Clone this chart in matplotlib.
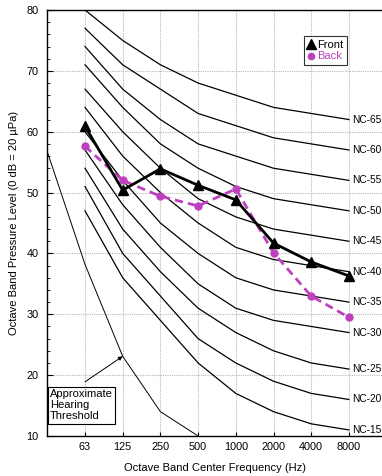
import numpy as np
import matplotlib
matplotlib.use("Agg")
import matplotlib.pyplot as plt
from matplotlib.ticker import MultipleLocator
from matplotlib.lines import Line2D

plt.rcParams["font.family"] = ["Liberation Sans", "DejaVu Sans"]

# Octave bands
bands = ["63", "125", "250", "500", "1000", "2000", "4000", "8000"]

# Measured levels (dB)
front = [60.9, 50.4, 53.9, 51.2, 48.8, 41.7, 38.6, 36.3]
back = [57.6, 52.0, 49.4, 47.8, 50.6, 40.1, 33.0, 29.5]

# Noise Criterion curves (dB per octave band)
nc_names = ["NC-15", "NC-20", "NC-25", "NC-30", "NC-35", "NC-40",
            "NC-45", "NC-50", "NC-55", "NC-60", "NC-65"]
nc_levels = [
    [47, 36, 29, 22, 17, 14, 12, 11],
    [51, 40, 33, 26, 22, 19, 17, 16],
    [54, 44, 37, 31, 27, 24, 22, 21],
    [57, 48, 41, 35, 31, 29, 28, 27],
    [60, 52, 45, 40, 36, 34, 33, 32],
    [64, 56, 50, 45, 41, 39, 38, 37],
    [67, 60, 54, 49, 46, 44, 43, 42],
    [71, 64, 58, 54, 51, 49, 48, 47],
    [74, 67, 62, 58, 56, 54, 53, 52],
    [77, 71, 67, 63, 61, 59, 58, 57],
    [80, 75, 71, 68, 66, 64, 63, 62],
]

# Approximate hearing threshold
threshold_freqs = [31.5, 63, 125, 250, 500]
threshold_levels = [56.7, 38.2, 23.1, 14.0, 10.0]

back_color = "#bf40bf"

fig = plt.figure(figsize=(3.82, 4.76), dpi=100)
ax = fig.add_axes([47.3 / 382, 1 - 436 / 476, 1 - 47.3 / 382, 426 / 476])

x = np.arange(len(bands))
ax.set_xlim(-1, -1 + (382 - 47.3) / 37.7)
ax.set_ylim(10, 80)

# grid
for xi in x:
    ax.axvline(xi, color="#b8b8b8", lw=0.8, ls=(0, (1, 1)), zorder=0)
for yv in range(20, 80, 10):
    ax.axhline(yv, color="#b8b8b8", lw=0.8, ls=(0, (1, 1)), zorder=0)

# NC curves and labels
for name, lv in zip(nc_names, nc_levels):
    ax.plot(x, lv, color="black", lw=0.9, zorder=2)
    ax.text(x[-1] + 0.08, lv[-1], name, fontsize=7.3, va="center", ha="left",
            clip_on=False)

# hearing threshold
tx = np.round(np.log2(np.array(threshold_freqs) / 63.0))
ax.plot(tx, threshold_levels, color="black", lw=0.7, zorder=2)
ax.annotate("", xy=(tx[2], threshold_levels[2]), xytext=(0, 18.9),
            arrowprops=dict(arrowstyle="-|>", color="black", lw=0.7,
                            mutation_scale=6, shrinkA=0, shrinkB=0))
ax.text(-0.93, 12.4, "Approximate\nHearing\nThreshold", fontsize=8,
        ha="left", va="bottom", linespacing=1.12, zorder=5,
        bbox=dict(boxstyle="square,pad=0.2", fc="white", ec="black", lw=0.8))

# measured data
ax.plot(x, front, color="black", lw=2.0, marker="^", ms=7, zorder=4)
ax.plot(x, back, color=back_color, lw=2.0, ls=(0, (3, 1.8)), marker="o",
        ms=5, zorder=3)

handles = [Line2D([], [], color="black", marker="^", ls="none", ms=6.5),
           Line2D([], [], color=back_color, marker="o", ls="none", ms=4.5)]
leg = ax.legend(handles, ["Front", "Back"], loc="upper left",
                bbox_to_anchor=((304 - 47.3) / (382 - 47.3), 1 - 26.5 / 426),
                fontsize=8, handlelength=0.6, handletextpad=0.3,
                borderpad=0.3, labelspacing=0.15, frameon=True, fancybox=False,
                borderaxespad=0)
leg.get_frame().set_edgecolor("black")
leg.get_frame().set_linewidth(0.8)
leg.get_texts()[1].set_color(back_color)

# axes styling
ax.set_xticks(x)
ax.set_xticklabels(bands, fontsize=7.8)
ax.yaxis.set_major_locator(MultipleLocator(10))
ax.yaxis.set_minor_locator(MultipleLocator(2))
ax.tick_params(axis="y", which="major", direction="in", length=4,
               labelsize=7.8, pad=6.5)
ax.tick_params(axis="y", which="minor", direction="in", length=2.5)
ax.tick_params(axis="x", direction="in", length=3, pad=4)
ax.spines["right"].set_visible(False)
for s in ["left", "bottom", "top"]:
    ax.spines[s].set_linewidth(1.0)
ax.set_xlabel("Octave Band Center Frequency (Hz)", fontsize=8, labelpad=8)
ax.set_ylabel("Octave Band Pressure Level (0 dB = 20 µPa)", fontsize=8,
              labelpad=5)

fig.savefig("out.png", dpi=100)
